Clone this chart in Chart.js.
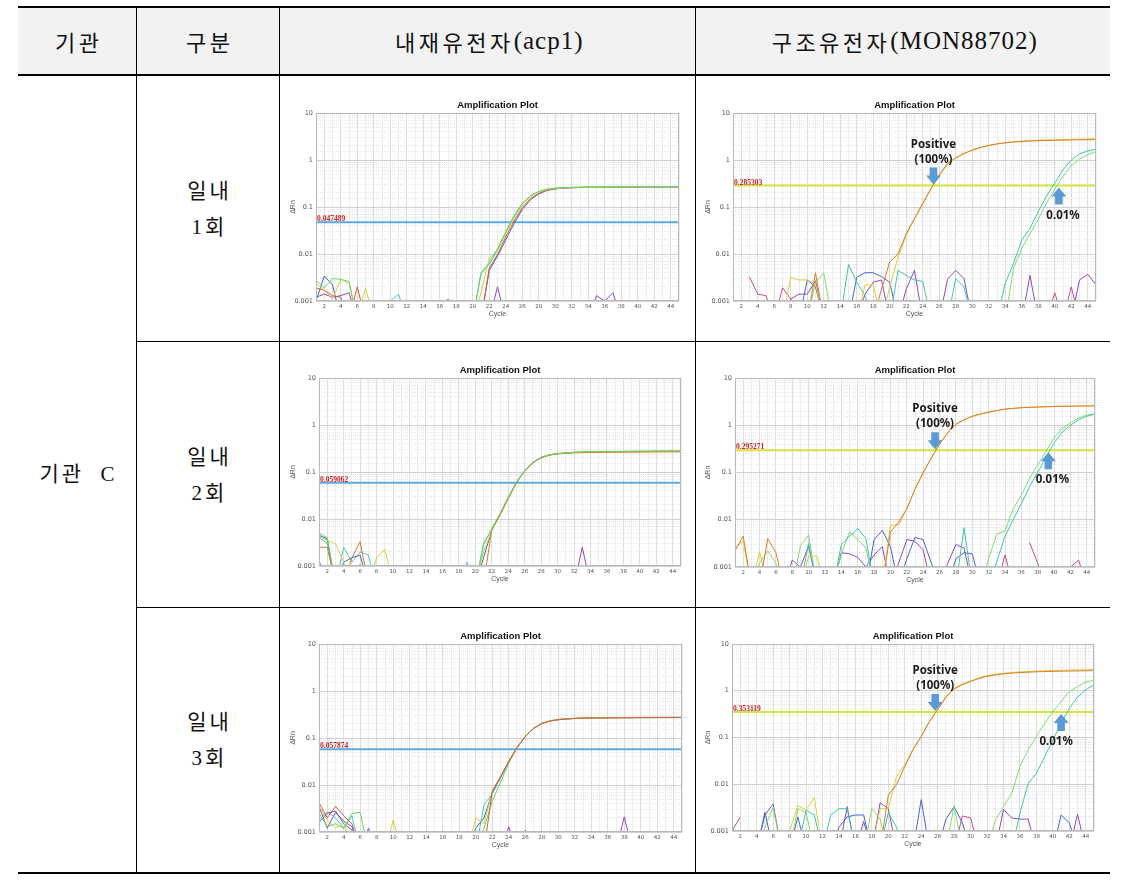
<!DOCTYPE html>
<html>
<head>
<meta charset="utf-8">
<script src="https://cdn.jsdelivr.net/npm/chart.js@4.4.1/dist/chart.umd.min.js"></script>
<style>
  body { margin: 0; background: #fff; }
  #page { position: relative; width: 1127px; height: 883px; overflow: hidden; }
  .line { position: absolute; background: #000; z-index: 2; }
  .cell { position: absolute; display: flex; align-items: center; justify-content: center; text-align: center;
          font-family: "Liberation Serif", "Noto Sans CJK KR", serif; color: #111; }
  .head { font-size: 22px; letter-spacing: 3.5px; padding-left: 3.5px; box-sizing: border-box; }
  .head .lat { font-size: 25px; letter-spacing: 1px; }
  .side { font-size: 21px; letter-spacing: 3px; padding-left: 3px; box-sizing: border-box; line-height: 36px; }
  canvas { position: absolute; z-index: 1; }
</style>
</head>
<body>
<div id="page">
  <div style="position:absolute;left:18px;top:8px;width:1092px;height:66px;background:#f2f2f2"></div>
  <div class="line" style="left:18px;top:6px;width:1092px;height:2px"></div>
  <div class="line" style="left:18px;top:74px;width:1092px;height:2px"></div>
  <div class="line" style="left:136px;top:341px;width:974px;height:1px"></div>
  <div class="line" style="left:136px;top:607px;width:974px;height:1px"></div>
  <div class="line" style="left:18px;top:872px;width:1092px;height:2px"></div>
  <div class="line" style="left:136px;top:8px;width:1px;height:864px"></div>
  <div class="line" style="left:279px;top:8px;width:1px;height:864px"></div>
  <div class="line" style="left:695px;top:8px;width:1px;height:864px"></div>

  <div class="cell head" style="left:18px;top:8px;width:118px;height:66px">기관</div>
  <div class="cell head" style="left:137px;top:8px;width:142px;height:66px">구분</div>
  <div class="cell head" style="left:280px;top:8px;width:415px;height:66px">내재유전자<span class="lat">(acp1)</span></div>
  <div class="cell head" style="left:696px;top:8px;width:414px;height:66px">구조유전자<span class="lat">(MON88702)</span></div>

  <div class="cell side" style="left:18px;top:76px;width:118px;height:796px">기관&nbsp; C</div>
  <div class="cell side" style="left:137px;top:76px;width:142px;height:265px">일내<br>1회</div>
  <div class="cell side" style="left:137px;top:342px;width:142px;height:265px">일내<br>2회</div>
  <div class="cell side" style="left:137px;top:608px;width:142px;height:264px">일내<br>3회</div>
</div>
<script>
const B = 0.0004 // below the 0.001 floor, the line runs off the plot
const _ = null   // nothing drawn at this cycle

const cycles = [1, 2, 3, 4, 5, 6, 7, 8, 9, 10, 11, 12, 13, 14, 15, 16, 17, 18, 19, 20, 21, 22, 23,
  24, 25, 26, 27, 28, 29, 30, 31, 32, 33, 34, 35, 36, 37, 38, 39, 40, 41, 42, 43, 44, 45]
const yTickLabels = ['0.001', '0.01', '0.1', '1', '10']

// 내재유전자(acp1), 일내 1회
const acp1Run1Green = [0.0028, 0.0019, 0.003, 0.0029, 0.0026, B, B, B, B, B, B, B, B, B, B,
  B, B, B, B, B, 0.004, 0.0065, 0.013, 0.03, 0.066, 0.12, 0.175, 0.215, 0.24, 0.252,
  0.258, 0.262, 0.264, 0.265, 0.266, 0.267, 0.268, 0.268, 0.269, 0.27, 0.27, 0.271, 0.271, 0.272, 0.272]
const acp1Run1Yellow = [0.0024, 0.0017, 0.0011, 0.0029, 0.0024, B, 0.0019, B, B, B, B, B, B, B, B,
  B, B, B, B, B, 0.0015, 0.0082, 0.012, 0.027, 0.058, 0.11, 0.165, 0.21, 0.235, 0.25,
  0.256, 0.26, 0.262, 0.264, 0.265, 0.266, 0.267, 0.268, 0.268, 0.269, 0.27, 0.27, 0.27, 0.271, 0.271]
const acp1Run1Red = [0.0019, 0.0017, 0.0013, 0.0012, B, 0.002, B, B, B, B, B, B, B, B, B,
  B, B, B, B, B, B, 0.005, 0.0098, 0.023, 0.05, 0.097, 0.15, 0.195, 0.228, 0.245,
  0.254, 0.258, 0.26, 0.262, 0.263, 0.264, 0.265, 0.265, 0.266, 0.266, 0.267, 0.267, 0.268, 0.268, 0.268]
const acp1Run1Blue = [0.001, 0.0034, 0.0022, B, B, B, B, B, B, B, B, B, B, B, B,
  B, B, B, B, B, B, 0.0045, 0.009, 0.02, 0.044, 0.088, 0.143, 0.19, 0.224, 0.242,
  0.252, 0.257, 0.26, 0.262, 0.263, 0.264, 0.265, 0.265, 0.266, 0.266, 0.267, 0.267, 0.267, 0.268, 0.268]
const acp1Run1Cyan = [B, B, B, B, B, B, B, B, B, 0.001, 0.0014, B, B, B, B,
  B, B, B, B, B, 0.0038, 0.006, 0.012, 0.028, 0.062, 0.115, 0.17, 0.21, 0.238, 0.25,
  0.257, 0.261, 0.263, 0.265, 0.266, 0.267, 0.268, 0.268, 0.269, 0.27, 0.27, 0.27, 0.271, 0.271, 0.272]
const acp1Run1Purple = [0.0012, 0.0014, 0.0012, 0.0013, 0.0015, B, _, _, _, _, _, _, _, _, _,
  B, 0.0011, B, _, _, _, B, 0.002, B, _, _, _, _, _, _,
  _, _, _, B, 0.0013, 0.001, 0.0015, B, _, _, _, _, _, _, _]

// 내재유전자(acp1), 일내 2회
const acp1Run2Green = [0.005, 0.004, B, B, B, 0.0011, B, B, B, B, B, B, B, B, B,
  B, B, B, B, B, 0.0028, 0.0062, 0.013, 0.029, 0.061, 0.105, 0.16, 0.205, 0.232, 0.247,
  0.256, 0.263, 0.268, 0.27, 0.272, 0.274, 0.275, 0.276, 0.278, 0.28, 0.28, 0.282, 0.282, 0.283, 0.283]
const acp1Run2Orange = [0.0025, 0.0025, B, B, 0.0015, 0.0033, B, B, B, B, B, B, B, B, B,
  B, B, B, B, B, B, 0.006, 0.012, 0.027, 0.059, 0.104, 0.158, 0.2, 0.228, 0.242,
  0.25, 0.255, 0.258, 0.26, 0.262, 0.263, 0.264, 0.265, 0.265, 0.266, 0.266, 0.267, 0.267, 0.268, 0.268]
const acp1Run2Yellow = [0.0042, 0.0035, 0.003, 0.0012, B, B, B, 0.0015, 0.0023, B, B, B, B, B, B,
  B, B, B, B, B, 0.002, 0.0056, 0.0125, 0.028, 0.06, 0.105, 0.158, 0.202, 0.23, 0.245,
  0.253, 0.258, 0.262, 0.264, 0.266, 0.267, 0.268, 0.27, 0.27, 0.271, 0.272, 0.272, 0.273, 0.273, 0.274]
const acp1Run2Blue = [0.0045, 0.0038, B, 0.0012, 0.0015, 0.0017, B, B, B, B, B, B, B, B, B,
  B, B, B, B, B, 0.0015, 0.0058, 0.0125, 0.028, 0.06, 0.105, 0.16, 0.204, 0.231, 0.246,
  0.254, 0.26, 0.263, 0.265, 0.267, 0.268, 0.27, 0.27, 0.271, 0.272, 0.272, 0.273, 0.273, 0.274, 0.274]
const acp1Run2Cyan = [0.004, 0.003, B, 0.0025, 0.0012, 0.002, 0.0017, B, B, B, B, B, B, B, B,
  B, B, B, 0.0012, B, 0.003, 0.006, 0.013, 0.029, 0.061, 0.106, 0.16, 0.204, 0.231, 0.246,
  0.255, 0.261, 0.265, 0.267, 0.269, 0.27, 0.272, 0.273, 0.274, 0.275, 0.276, 0.277, 0.277, 0.278, 0.278]
const acp1Run2Purple = [0.0013, B, _, _, _, _, _, _, _, _, _, _, _, _, B,
  0.001, B, _, _, _, _, _, _, _, _, _, _, _, _, _,
  _, B, 0.0025, B, _, B, 0.001, B, _, _, _, _, _, _, _]

// 내재유전자(acp1), 일내 3회
const acp1Run3Green = [0.0025, 0.0013, 0.0015, 0.0012, 0.0025, 0.0026, B, B, B, B, B, B, B, B, B,
  B, B, B, B, B, 0.0012, 0.0045, 0.0115, 0.029, 0.062, 0.108, 0.16, 0.205, 0.232, 0.248,
  0.257, 0.263, 0.267, 0.269, 0.27, 0.271, 0.272, 0.273, 0.273, 0.274, 0.274, 0.275, 0.275, 0.276, 0.276]
const acp1Run3Red = [0.0042, 0.002, 0.0035, 0.0022, 0.0015, B, B, B, B, B, B, B, B, B, B,
  B, B, B, B, B, B, 0.0075, 0.015, 0.032, 0.063, 0.108, 0.16, 0.203, 0.23, 0.245,
  0.254, 0.26, 0.264, 0.266, 0.267, 0.268, 0.269, 0.27, 0.27, 0.271, 0.271, 0.272, 0.272, 0.272, 0.273]
const acp1Run3Yellow = [0.0035, 0.0018, 0.0012, 0.0016, B, B, B, B, B, 0.0018, B, B, B, B, B,
  B, B, B, B, 0.002, 0.0015, 0.0072, 0.015, 0.032, 0.063, 0.108, 0.16, 0.203, 0.23, 0.245,
  0.254, 0.26, 0.264, 0.266, 0.268, 0.269, 0.27, 0.27, 0.271, 0.271, 0.272, 0.272, 0.273, 0.273, 0.273]
const acp1Run3Blue = [0.0016, 0.0025, 0.0028, 0.0015, 0.0011, B, B, B, B, B, B, B, B, B, B,
  B, B, B, B, 0.0012, 0.002, 0.0068, 0.0145, 0.031, 0.062, 0.107, 0.159, 0.202, 0.23, 0.245,
  0.254, 0.26, 0.264, 0.266, 0.267, 0.268, 0.269, 0.27, 0.27, 0.271, 0.271, 0.272, 0.272, 0.272, 0.273]
const acp1Run3Cyan = [0.0018, 0.0027, 0.002, 0.0012, 0.0022, B, B, B, B, B, B, B, B, B, B,
  B, B, B, B, B, 0.0038, 0.0065, 0.014, 0.031, 0.062, 0.107, 0.16, 0.204, 0.232, 0.247,
  0.256, 0.262, 0.266, 0.268, 0.27, 0.271, 0.272, 0.273, 0.273, 0.274, 0.274, 0.275, 0.275, 0.276, 0.276]
const acp1Run3Purple = [0.0035, 0.0012, 0.0026, 0.0017, 0.0013, B, 0.0012, B, _, _, _, _, _, _, _,
  _, _, _, _, _, _, _, B, 0.0013, B, 0.0011, B, _, _, _,
  _, _, _, _, _, _, B, 0.0021, B, _, _, _, _, _, _]

// 구조유전자(MON88702), 일내 1회
const mon1Orange = [B, B, B, B, B, B, B, B, B, B, 0.004, B, B, B, B,
  B, B, B, 0.0018, 0.0068, 0.01, 0.027, 0.057, 0.12, 0.25, 0.48, 0.85, 1.12, 1.38, 1.63,
  1.85, 2.05, 2.2, 2.32, 2.42, 2.48, 2.53, 2.57, 2.6, 2.63, 2.65, 2.67, 2.69, 2.7, 2.72]
const mon1Yellow = [B, B, B, B, B, B, B, 0.0032, 0.0028, 0.0028, 0.0023, B, B, B, B,
  B, 0.0022, 0.0022, B, 0.002, 0.0085, 0.025, 0.055, 0.115, 0.24, 0.46, 0.82, 1.1, 1.36, 1.6,
  1.83, 2.03, 2.2, 2.33, 2.44, 2.52, 2.58, 2.63, 2.67, 2.7, 2.73, 2.76, 2.78, 2.8, 2.83]
const mon1Green = [B, B, B, B, B, B, B, B, B, B, 0.0025, 0.004, B, B, B,
  B, B, B, B, B, B, B, B, B, B, B, B, B, B, B,
  B, B, B, B, 0.005, 0.013, 0.027, 0.055, 0.12, 0.24, 0.45, 0.75, 1.05, 1.3, 1.5]
const mon1Teal = [B, B, B, B, B, B, B, B, B, B, B, B, B, B, 0.006,
  0.0025, 0.0013, B, B, B, 0.0045, 0.0035, 0.0028, 0.0026, B, B, B, 0.003, 0.002, B,
  B, B, B, 0.0024, 0.0063, 0.02, 0.035, 0.08, 0.17, 0.32, 0.62, 1.0, 1.35, 1.55, 1.7]
const mon1Blue = [B, B, B, B, B, B, B, B, B, 0.0028, 0.002, B, B, B, B,
  0.0032, 0.004, 0.004, 0.0033, 0.0025, B, B, B, B, B, B, B, B, B, B,
  B, B, B, B, B, B, B, B, B, B, B, B, B, B, B]
const mon1Purple = [B, B, B, B, B, B, B, 0.0011, 0.0014, 0.0014, 0.0027, B, B, B, B,
  B, 0.0014, 0.0025, 0.0028, B, B, 0.0018, 0.0045, B, B, B, 0.0029, 0.0045, 0.003, B,
  B, B, B, B, B, B, 0.0035, B, B, B, B, B, 0.0028, 0.0037, 0.0022]
const mon1Magenta = [_, _, 0.0032, 0.0014, 0.0013, B, 0.0019, 0.0011, B, _, _, _, _, _, _,
  _, _, _, _, _, _, _, _, _, _, _, _, _, _, _,
  _, _, _, _, _, _, _, _, B, 0.0015, B, 0.002, B, _, _]

// 구조유전자(MON88702), 일내 2회
const mon2Orange = [0.0022, 0.0045, B, B, 0.004, 0.002, B, B, B, B, B, B, B, B, B,
  B, B, B, B, 0.0055, 0.009, 0.017, 0.045, 0.1, 0.205, 0.4, 0.7, 1.05, 1.32, 1.55,
  1.73, 1.9, 2.05, 2.2, 2.28, 2.35, 2.4, 2.43, 2.46, 2.49, 2.51, 2.53, 2.55, 2.57, 2.58]
const mon2Yellow = [0.0025, 0.0035, B, 0.0021, B, B, B, B, B, 0.0017, 0.0017, B, B, B, B,
  B, B, B, B, 0.0077, 0.0077, 0.017, 0.044, 0.098, 0.2, 0.39, 0.69, 1.04, 1.31, 1.54,
  1.72, 1.89, 2.04, 2.18, 2.27, 2.34, 2.39, 2.43, 2.46, 2.49, 2.51, 2.53, 2.55, 2.56, 2.58]
const mon2Green = [B, B, B, 0.0012, 0.0022, 0.0012, B, B, 0.0028, 0.0048, B, B, B, 0.0019, 0.0055,
  0.0038, 0.0025, B, B, B, B, B, B, B, B, B, B, B, B, B,
  B, 0.0015, 0.005, 0.0058, 0.017, 0.033, 0.076, 0.145, 0.28, 0.54, 0.85, 1.12, 1.44, 1.63, 1.75]
const mon2Cyan = [B, B, B, B, B, B, B, B, B, 0.0032, B, B, B, 0.003, 0.0045,
  0.0065, 0.004, B, B, B, B, B, B, B, B, B, B, B, 0.0068, B,
  B, B, 0.0013, 0.0045, 0.01, 0.022, 0.05, 0.1, 0.21, 0.42, 0.72, 1.0, 1.3, 1.55, 1.72]
const mon2Blue = [B, B, B, B, B, B, B, B, B, B, B, B, B, B, B,
  B, B, 0.0038, 0.006, 0.0027, B, 0.0015, 0.0042, 0.0038, 0.0012, B, B, 0.0015, 0.002, 0.0019,
  B, B, B, B, B, B, B, B, B, B, B, B, B, B, B]
const mon2Purple = [B, B, B, B, B, B, B, 0.0014, 0.001, 0.0028, B, B, B, 0.002, 0.0019,
  0.0016, 0.001, 0.0018, 0.0027, B, 0.0012, 0.0038, 0.0035, 0.0023, B, B, 0.0012, 0.003, 0.0025, B,
  B, B, B, B, B, B, B, B, B, B, B, B, B, B, B]
const mon2Magenta = [_, _, _, _, _, _, _, _, _, _, _, _, _, _, _,
  _, _, _, _, _, _, _, _, _, _, _, _, _, _, _,
  _, _, B, 0.0018, B, _, 0.0033, 0.0012, B, _, _, 0.001, 0.0014, B, _]

// 구조유전자(MON88702), 일내 3회
const mon3Orange = [B, B, B, B, B, B, B, B, B, B, B, B, B, B, B,
  B, B, B, B, 0.0059, 0.0098, 0.024, 0.055, 0.105, 0.22, 0.39, 0.73, 1.09, 1.35, 1.58,
  1.83, 2.04, 2.18, 2.3, 2.38, 2.45, 2.5, 2.54, 2.57, 2.6, 2.62, 2.64, 2.66, 2.68, 2.7]
const mon3Yellow = [B, B, B, B, B, B, B, 0.001, 0.0035, 0.0028, 0.0052, B, B, B, B,
  B, B, B, 0.003, 0.003, 0.015, 0.026, 0.056, 0.107, 0.222, 0.4, 0.75, 1.12, 1.4, 1.63,
  1.88, 2.1, 2.25, 2.37, 2.46, 2.53, 2.59, 2.64, 2.68, 2.71, 2.74, 2.76, 2.78, 2.8, 2.82]
const mon3Green = [B, B, B, B, 0.0012, 0.0032, B, B, 0.003, 0.0025, B, B, B, B, B,
  B, B, 0.003, 0.0018, B, B, B, B, B, B, B, B, 0.0035, B, B,
  B, B, 0.0017, 0.0033, 0.0064, 0.024, 0.055, 0.105, 0.2, 0.36, 0.59, 0.97, 1.23, 1.54, 1.7]
const mon3Cyan = [B, B, B, B, B, B, B, B, B, 0.0028, 0.0022, B, 0.0022, 0.003, 0.003,
  B, B, B, B, 0.0025, 0.0012, B, B, B, B, B, B, B, B, B,
  B, B, B, B, B, 0.0024, 0.0105, 0.017, 0.039, 0.089, 0.2, 0.42, 0.73, 1.05, 1.35]
const mon3Blue = [B, B, B, B, 0.0025, B, B, B, 0.002, B, B, B, B, 0.0012, 0.002,
  0.0022, 0.0022, B, B, B, B, B, B, 0.0047, B, B, 0.0018, 0.0033, 0.0015, B,
  B, B, B, B, B, B, B, B, B, B, 0.0022, 0.0015, B, B, B]
const mon3Purple = [B, B, B, B, 0.0022, 0.0038, B, B, B, B, B, B, B, B, 0.0033,
  B, 0.0016, B, 0.004, 0.003, B, B, B, B, B, B, B, B, B, B,
  B, B, B, 0.0029, 0.0019, 0.0018, 0.0018, B, B, B, B, B, 0.0023, B, B]
const mon3Magenta = [0.001, 0.002, _, _, _, _, _, _, _, _, _, _, _, _, _,
  _, _, _, _, _, _, _, _, _, _, _, _, B, 0.0021, 0.0019,
  B, _, _, _, _, _, _, _, _, _, _, _, _, _, _]

const thresholds = [0.047489, 0.059062, 0.057874, 0.285303, 0.295271, 0.353119]
const thresholdLabels = ['0.047489', '0.059062', '0.057874', '0.285303', '0.295271', '0.353119']
// cycles where the annotation arrows sit on the threshold line
const positiveArrowCycles = [25.3, 25.45, 25.7]
const lowArrowCycles = [40.5, 39.3, 41.0]
const lowLabelCycles = [41.0, 39.8, 40.4]

const col = {
  orange: '#dc7a2a', yellow: '#dccd3e', green: '#64d664', lime: '#7fdc6a', cyan: '#4cc8cc',
  teal: '#3fc7aa', blue: '#4466d2', purple: '#8c48c6', magenta: '#c64a90', red: '#d9553a'
}

// first series is drawn on top
const plots = [
  { at: [281, 76], box: [316, 113, 679, 301], t: 0, line: '#5eaae6',
    series: [[acp1Run1Green, col.green], [acp1Run1Yellow, col.yellow], [acp1Run1Cyan, col.cyan],
      [acp1Run1Red, col.red], [acp1Run1Blue, col.blue], [acp1Run1Purple, col.purple]] },
  { at: [281, 342], box: [319, 378, 681, 566], t: 1, line: '#5eaae6',
    series: [[acp1Run2Green, col.green], [acp1Run2Orange, col.orange], [acp1Run2Yellow, col.yellow],
      [acp1Run2Blue, col.blue], [acp1Run2Cyan, col.cyan], [acp1Run2Purple, col.purple]] },
  { at: [281, 608], box: [319, 644, 682, 832], t: 2, line: '#5eaae6',
    series: [[acp1Run3Red, col.red], [acp1Run3Yellow, col.yellow], [acp1Run3Green, col.green],
      [acp1Run3Blue, col.blue], [acp1Run3Cyan, col.cyan], [acp1Run3Purple, col.purple]] },
  { at: [696, 76], box: [733, 113, 1096, 301], t: 3, line: '#d6e440', arrows: 0,
    series: [[mon1Orange, col.orange], [mon1Yellow, col.yellow], [mon1Teal, col.teal], [mon1Green, col.lime],
      [mon1Blue, col.blue], [mon1Purple, col.purple], [mon1Magenta, col.magenta]] },
  { at: [696, 342], box: [735, 378, 1095, 567], t: 4, line: '#d6e440', arrows: 1,
    series: [[mon2Orange, col.orange], [mon2Yellow, col.yellow], [mon2Cyan, col.teal], [mon2Green, col.lime],
      [mon2Blue, col.blue], [mon2Purple, col.purple], [mon2Magenta, col.magenta]] },
  { at: [696, 608], box: [732, 644, 1094, 831], t: 5, line: '#d6e440', arrows: 2,
    series: [[mon3Orange, col.orange], [mon3Yellow, col.yellow], [mon3Cyan, col.teal], [mon3Green, col.lime],
      [mon3Blue, col.blue], [mon3Purple, col.purple], [mon3Magenta, col.magenta]] }
]

const isDecade = v => Math.abs(Math.log10(v) - Math.round(Math.log10(v))) < 1e-6

function drawArrow(ctx, cx, tipY, dir) {
  // dir 1 points down, -1 points up
  let len = 17, head = 9, hw = 7.5, sw = 3.8
  ctx.beginPath()
  ctx.moveTo(cx, tipY)
  ctx.lineTo(cx + hw, tipY - dir * head)
  ctx.lineTo(cx + sw, tipY - dir * head)
  ctx.lineTo(cx + sw, tipY - dir * len)
  ctx.lineTo(cx - sw, tipY - dir * len)
  ctx.lineTo(cx - sw, tipY - dir * head)
  ctx.lineTo(cx - hw, tipY - dir * head)
  ctx.closePath()
  ctx.fill()
}

function makePlot(p) {
  let canvas = document.createElement('canvas')
  let cw = 413, chh = 264, xHeight = 24
  canvas.width = cw
  canvas.height = chh
  canvas.style.left = p.at[0] + 'px'
  canvas.style.top = p.at[1] + 'px'
  document.getElementById('page').appendChild(canvas)
  let [l, t, r, b] = p.box
  let yWidth = l - p.at[0]
  let threshold = thresholds[p.t]

  let datasets = p.series.map(([values, color]) => ({
    data: values.map((v, i) => ({x: cycles[i], y: v})),
    borderColor: color, borderWidth: 1, pointRadius: 0, tension: 0, spanGaps: false
  }))
  datasets.push({
    data: [{x: cycles[0], y: threshold}, {x: cycles[cycles.length - 1], y: threshold}],
    borderColor: p.line, borderWidth: 2, pointRadius: 0
  })

  let decor = {
    id: 'decor',
    afterDatasetsDraw(chart) {
      let {ctx, chartArea: a, scales: {x, y}} = chart
      ctx.save()
      ctx.strokeStyle = '#b9b9b9'
      ctx.lineWidth = 1
      ctx.strokeRect(a.left + 0.5, a.top + 0.5, a.width - 1, a.height - 1)
      ctx.fillStyle = '#111'
      ctx.font = 'bold 9.5px "Liberation Sans", Arial'
      ctx.textAlign = 'center'
      ctx.fillText('Amplification Plot', (a.left + a.right) / 2, a.top - 5)
      let ty = y.getPixelForValue(threshold)
      ctx.fillStyle = '#cc1f1f'
      ctx.font = 'bold 7.5px "Liberation Serif"'
      ctx.textAlign = 'left'
      ctx.fillText(thresholdLabels[p.t], a.left + 1, ty - 1)
      if (p.arrows != undefined) {
        let k = p.arrows
        let px = x.getPixelForValue(positiveArrowCycles[k])
        let lx = x.getPixelForValue(lowArrowCycles[k])
        ctx.fillStyle = '#5b9bd5'
        drawArrow(ctx, px, ty - 1, 1)
        drawArrow(ctx, lx, ty + 2, -1)
        ctx.fillStyle = '#1a1a1a'
        ctx.font = 'bold 11.5px "Noto Sans", Roboto'
        ctx.textAlign = 'center'
        ctx.fillText('Positive', px, ty - 38)
        ctx.fillText('(100%)', px, ty - 23)
        ctx.fillText('0.01%', x.getPixelForValue(lowLabelCycles[k]), ty + 33)
      }
      ctx.restore()
    }
  }

  new Chart(canvas.getContext('2d'), {
    type: 'line',
    data: { datasets },
    options: {
      responsive: false,
      animation: false,
      events: [],
      layout: { padding: { left: 0, top: t - p.at[1], right: p.at[0] + cw - r, bottom: p.at[1] + chh - b - xHeight } },
      plugins: { legend: { display: false }, tooltip: { enabled: false } },
      scales: {
        x: {
          type: 'linear', min: 1, max: 45,
          afterFit: s => { s.height = xHeight },
          ticks: { stepSize: 1, autoSkip: false, maxRotation: 0, padding: 2, color: '#555',
            font: { family: 'DejaVu Sans', size: 5.5 }, callback: v => v % 2 == 0 ? v : '' },
          grid: { color: c => c.tick && c.tick.value % 2 == 0 ? '#dcdcdc' : '#ececec', drawTicks: false },
          border: { display: false },
          title: { display: true, text: 'Cycle', color: '#555', font: { family: 'Liberation Sans', size: 7 }, padding: { top: 0, bottom: 7 } }
        },
        y: {
          type: 'logarithmic', min: 0.001, max: 10,
          afterFit: s => { s.width = yWidth },
          ticks: { autoSkip: false, padding: 3, color: '#555', font: { family: 'DejaVu Sans', size: 6.5 },
            callback: v => isDecade(v) ? yTickLabels[Math.round(Math.log10(v)) + 3] : '' },
          grid: { color: c => c.tick && isDecade(c.tick.value) ? '#d0d0d0' : '#e6e6e6', drawTicks: false },
          border: { display: false, dash: c => c.tick && !isDecade(c.tick.value) ? [1, 1] : [] },
          title: { display: true, text: 'ΔRn', color: '#555', font: { family: 'Liberation Sans', size: 7 }, padding: { top: 8, bottom: 0 } }
        }
      }
    },
    plugins: [decor]
  })
}

for (let p of plots) makePlot(p)
</script>
</body>
</html>
